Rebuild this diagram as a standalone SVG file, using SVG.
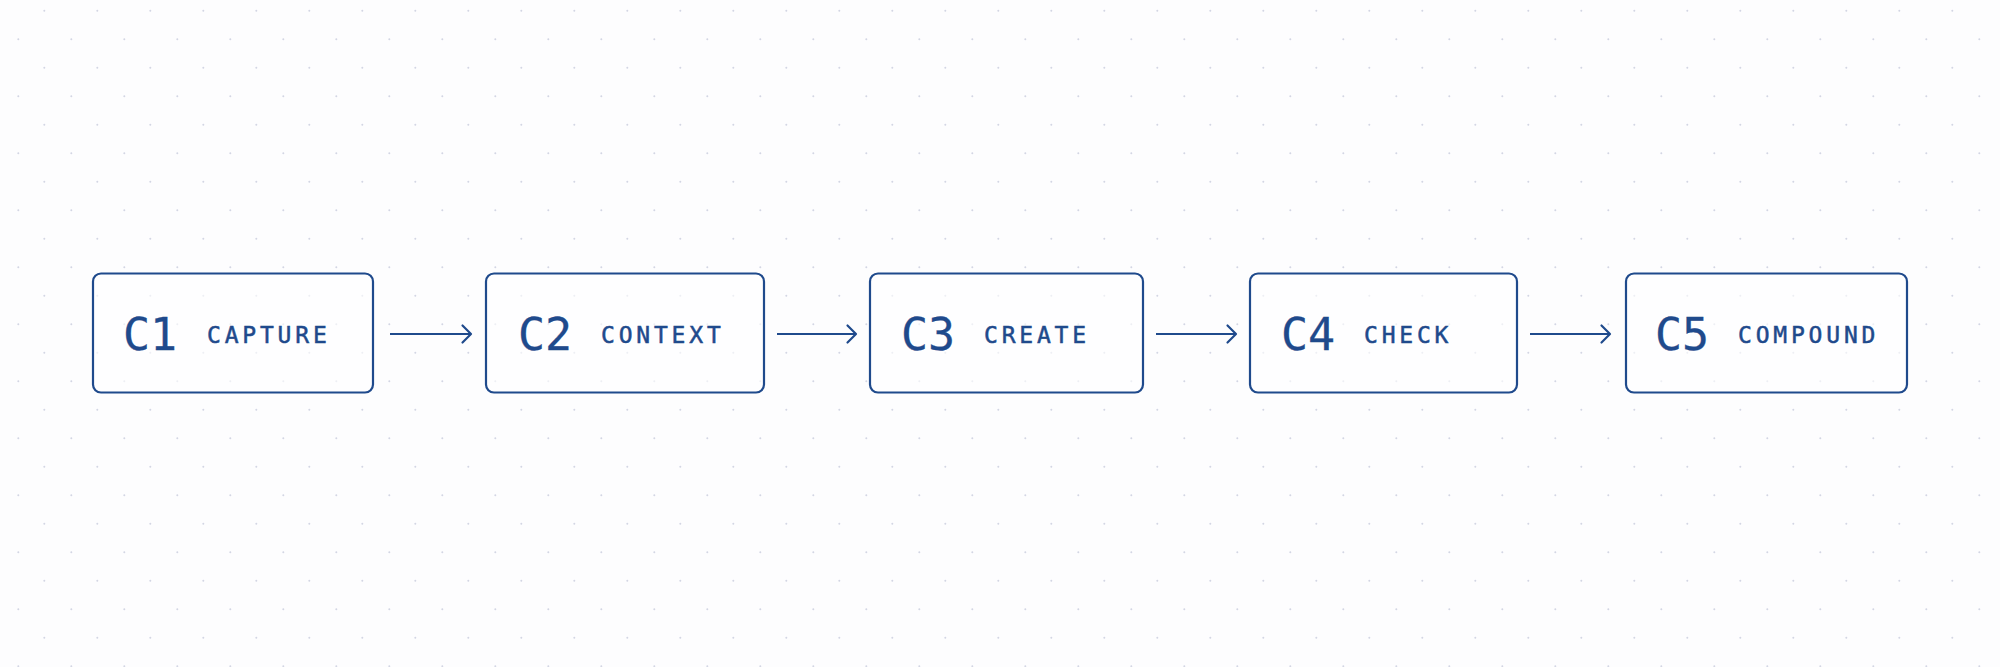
<svg xmlns="http://www.w3.org/2000/svg" width="2000" height="667" viewBox="0 0 2000 667">
  <defs>
    <pattern id="dots" x="0" y="0" width="53" height="57" patternUnits="userSpaceOnUse">
      <circle cx="44.3" cy="10.7" r="1" fill="#d3d6e3"/>
      <circle cx="18.3" cy="39.2" r="1" fill="#d3d6e3"/>
    </pattern>
    <marker id="arrow" markerUnits="userSpaceOnUse" markerWidth="20" markerHeight="24" viewBox="-12 -12 14 24" refX="0" refY="0" orient="auto">
      <path d="M -8.5 -8.5 L 0 0 L -8.5 8.5" fill="none" stroke="#1f4a8c" stroke-width="2.2" stroke-linecap="round" stroke-linejoin="round"/>
    </marker>
    <style>
      .box { fill: #ffffff; fill-opacity: 0.6; stroke: #1f4a8c; stroke-width: 2.2; }
      .id { font-family: "DejaVu Sans Mono", "Liberation Mono", monospace; font-size: 45px; fill: #1f4a8c; stroke: #1f4a8c; stroke-width: 0.3; }
      .lbl { font-family: "DejaVu Sans Mono", "Liberation Mono", monospace; font-size: 23px; letter-spacing: 3.8px; fill: #1f4a8c; stroke: #1f4a8c; stroke-width: 0.5; }
      .conn { fill: none; stroke: #1f4a8c; stroke-width: 2.2; marker-end: url(#arrow); }
    </style>
  </defs>
  <rect width="2000" height="667" fill="#fdfdfe"/>
  <rect width="2000" height="667" fill="url(#dots)"/>

  <g id="node-c1">
    <rect class="box" x="93" y="273.5" width="280" height="119" rx="8"/>
    <text class="id" x="123" y="350">C1</text>
    <text class="lbl" x="207" y="343.3">CAPTURE</text>
  </g>
  <g id="node-c2">
    <rect class="box" x="486" y="273.5" width="278" height="119" rx="8"/>
    <text class="id" x="518" y="350">C2</text>
    <text class="lbl" x="601" y="343.3">CONTEXT</text>
  </g>
  <g id="node-c3">
    <rect class="box" x="870" y="273.5" width="273" height="119" rx="8"/>
    <text class="id" x="901" y="350">C3</text>
    <text class="lbl" x="984" y="343.3">CREATE</text>
  </g>
  <g id="node-c4">
    <rect class="box" x="1250" y="273.5" width="267" height="119" rx="8"/>
    <text class="id" x="1281" y="350">C4</text>
    <text class="lbl" x="1364" y="343.3">CHECK</text>
  </g>
  <g id="node-c5">
    <rect class="box" x="1626" y="273.5" width="281" height="119" rx="8"/>
    <text class="id" x="1655" y="350">C5</text>
    <text class="lbl" x="1738" y="343.3">COMPOUND</text>
  </g>

  <g id="connectors">
    <path class="conn" d="M 390 334 L 471 334"/>
    <path class="conn" d="M 777 334 L 856 334"/>
    <path class="conn" d="M 1156 334 L 1236 334"/>
    <path class="conn" d="M 1530 334 L 1610 334"/>
  </g>
</svg>
